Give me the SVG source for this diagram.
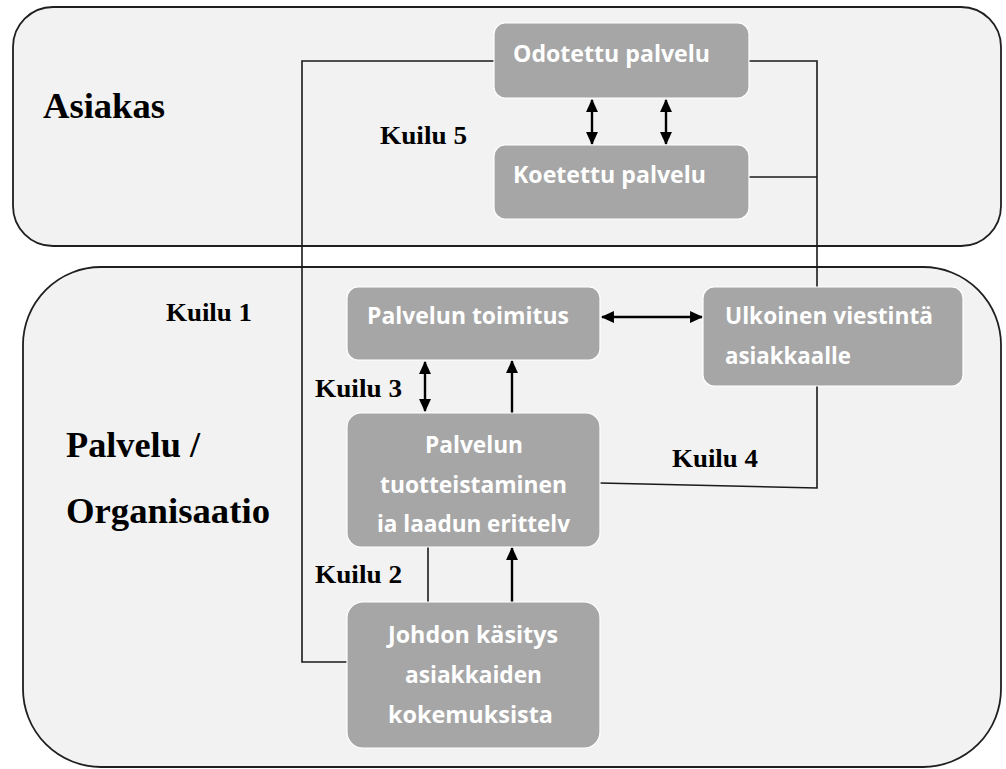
<svg xmlns="http://www.w3.org/2000/svg" width="1006" height="769" viewBox="0 0 1006 769">
  <style>
    .zone { fill: #f2f2f2; stroke: #1f1f1f; stroke-width: 1.8; }
    .box { fill: #a6a6a6; stroke: #ffffff; stroke-width: 1.2; }
    .btxt { font-family: "Open Sans", "Noto Sans", sans-serif; font-weight: bold; font-size: 24px; fill: #ffffff; }
    .lbl { font-family: "Liberation Serif", "Times New Roman", serif; font-weight: bold; fill: #000000; }
    .gap { font-size: 26px; }
    .big { font-size: 36px; }
    .wire { fill: none; stroke: #1a1a1a; stroke-width: 1.6; }
    .arrow { fill: none; stroke: #000000; stroke-width: 2.4; }
  </style>
  <defs>
    <marker id="head" viewBox="0 0 12 12" refX="11" refY="6" markerWidth="13" markerHeight="13" markerUnits="userSpaceOnUse" orient="auto-start-reverse">
      <path d="M0,0.5 L12,6 L0,11.5 z" fill="#000000"/>
    </marker>
  </defs>

  <!-- Two zones: customer and service organisation -->
  <g id="zone-asiakas">
    <rect class="zone" x="13" y="7" width="988" height="239" rx="40" ry="40"/>
  </g>
  <g id="zone-organisaatio">
    <rect class="zone" x="23" y="267" width="978" height="500" rx="78" ry="78"/>
  </g>

  <!-- Connectors -->
  <g id="connectors">
    <path class="wire" d="M494,61 H302 V662 H347"/>
    <path class="wire" d="M749,61 H817 V488 L600,483"/>
    <path class="wire" d="M749,177 H817"/>
    <path class="wire" d="M428,547 V602"/>
    <path class="arrow" d="M592,100 V144" marker-start="url(#head)" marker-end="url(#head)"/>
    <path class="arrow" d="M666,100 V144" marker-start="url(#head)" marker-end="url(#head)"/>
    <path class="arrow" d="M602,317 H702" marker-start="url(#head)" marker-end="url(#head)"/>
    <path class="arrow" d="M425,362 V411" marker-start="url(#head)" marker-end="url(#head)"/>
    <path class="arrow" d="M512,413 V361" marker-end="url(#head)"/>
    <path class="arrow" d="M512,602 V548" marker-end="url(#head)"/>
  </g>

  <!-- Nodes -->
  <g id="odotettu-palvelu">
    <rect class="box" x="494" y="23" width="255" height="75" rx="11"/>
    <text class="btxt" x="513" y="62" textLength="197" lengthAdjust="spacingAndGlyphs">Odotettu palvelu</text>
  </g>
  <g id="koetettu-palvelu">
    <rect class="box" x="494" y="145" width="255" height="74" rx="11"/>
    <text class="btxt" x="513" y="183" textLength="193" lengthAdjust="spacingAndGlyphs">Koetettu palvelu</text>
  </g>
  <g id="palvelun-toimitus">
    <rect class="box" x="347" y="287" width="253" height="73" rx="11"/>
    <text class="btxt" x="367" y="324" textLength="202" lengthAdjust="spacingAndGlyphs">Palvelun toimitus</text>
  </g>
  <g id="ulkoinen-viestinta">
    <rect class="box" x="703" y="287" width="260" height="99" rx="11"/>
    <text class="btxt" x="725" y="324" textLength="208" lengthAdjust="spacingAndGlyphs">Ulkoinen viestintä</text>
    <text class="btxt" x="725" y="364" textLength="126" lengthAdjust="spacingAndGlyphs">asiakkaalle</text>
  </g>
  <g id="tuotteistaminen">
    <rect class="box" x="347" y="413" width="253" height="134" rx="14"/>
    <text class="btxt" x="425" y="453" textLength="98" lengthAdjust="spacingAndGlyphs">Palvelun</text>
    <text class="btxt" x="380" y="493" textLength="187" lengthAdjust="spacingAndGlyphs">tuotteistaminen</text>
    <text class="btxt" x="377" y="532" textLength="193" lengthAdjust="spacingAndGlyphs">ia laadun erittelv</text>
  </g>
  <g id="johdon-kasitys">
    <rect class="box" x="347" y="602" width="253" height="146" rx="16"/>
    <text class="btxt" x="388" y="643" textLength="170" lengthAdjust="spacingAndGlyphs">Johdon käsitys</text>
    <text class="btxt" x="405" y="683" textLength="137" lengthAdjust="spacingAndGlyphs">asiakkaiden</text>
    <text class="btxt" x="388" y="723" textLength="165" lengthAdjust="spacingAndGlyphs">kokemuksista</text>
  </g>

  <!-- Zone titles and gap labels -->
  <g id="labels">
    <text class="lbl big" x="43" y="118" textLength="122" lengthAdjust="spacingAndGlyphs">Asiakas</text>
    <text class="lbl big" x="66" y="457" textLength="134" lengthAdjust="spacingAndGlyphs">Palvelu /</text>
    <text class="lbl big" x="66" y="523" textLength="204" lengthAdjust="spacingAndGlyphs">Organisaatio</text>
    <text class="lbl gap" x="380" y="144" textLength="87" lengthAdjust="spacingAndGlyphs">Kuilu 5</text>
    <text class="lbl gap" x="166" y="321" textLength="86" lengthAdjust="spacingAndGlyphs">Kuilu 1</text>
    <text class="lbl gap" x="315" y="397" textLength="87" lengthAdjust="spacingAndGlyphs">Kuilu 3</text>
    <text class="lbl gap" x="315" y="583" textLength="87" lengthAdjust="spacingAndGlyphs">Kuilu 2</text>
    <text class="lbl gap" x="672" y="467" textLength="86" lengthAdjust="spacingAndGlyphs">Kuilu 4</text>
  </g>
</svg>
